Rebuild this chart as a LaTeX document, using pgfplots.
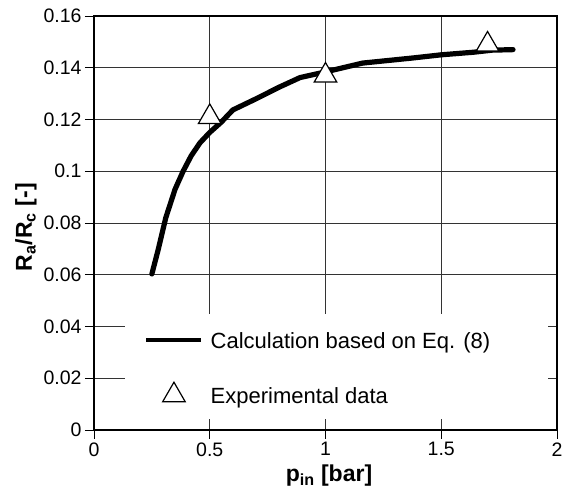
\documentclass[border=0pt]{standalone}
\usepackage{fontspec}
\setmainfont{Liberation Sans}
\usepackage{pgfplots}
\pgfplotsset{compat=1.18}
\pgfplotsset{
    linelegend/.style={legend image code/.code={\draw[##1, line width=4.5pt, line cap=butt] (0pt,0pt) -- (55pt,0pt);}},
    marklegend/.style={legend image code/.code={\draw[##1] plot coordinates {(27.5pt,0pt)};}},
}

\begin{document}
\begin{tikzpicture}
\begin{axis}[
    scale only axis,
    width=463pt, height=414pt,
    xmin=0, xmax=2,
    ymin=0, ymax=0.16,
    xtick={0,0.5,1,1.5,2},
    ytick={0,0.02,0.04,0.06,0.08,0.1,0.12,0.14,0.16},
    xtick pos=bottom, ytick pos=left,
    tick align=outside,
    major tick length=9pt,
    tick style={black, line width=0.9pt},
    xmajorgrids, ymajorgrids,
    grid style={black!80, line width=0.9pt},
    axis line style={black, line width=1.4pt},
    /pgf/number format/assume math mode=true,
    /pgf/number format/fixed,
    /pgf/number format/precision=2,
    ticklabel style={font=\fontsize{19.5}{23}\selectfont},
    xlabel={\textbf{p\textsubscript{in} [bar]}},
    ylabel={\textbf{R\textsubscript{a}/R\textsubscript{c} [-]}},
    label style={font=\fontsize{23}{27}\selectfont},
    xlabel style={at={(axis description cs:0.5076,-0.125)}, anchor=base},
    ylabel style={at={(axis description cs:-0.134,0.49)}, anchor=base},
    legend cell align=left,
    legend style={
        at={(rel axis cs:0.108,0.2367)}, anchor=north west,
        draw=none, fill=none, inner sep=0pt,
        row sep=34pt, column sep=7pt,
        font=\fontsize{22}{26}\selectfont,
        nodes={inner sep=0pt, text height=16pt, text depth=0pt},
    },
]
% white legend box over the grid
\fill[white] (rel axis cs:0.067,0.0266) rectangle (rel axis cs:0.9806,0.2802);

\addplot[black, line width=5.2pt, line cap=round, line join=round, linelegend]
    coordinates {
    (0.25,0.0603)(0.277,0.0696)(0.31,0.082)(0.35,0.093)(0.385,0.100)
    (0.42,0.106)(0.458,0.111)(0.5,0.115)(0.55,0.119)(0.6,0.1237)
    (0.7,0.128)(0.8,0.1325)(0.89,0.1362)(1.0,0.1384)(1.16,0.1418)
    (1.38,0.1438)(1.5,0.1450)(1.64,0.1460)(1.72,0.1468)(1.81,0.147)
    };
\addplot[only marks, mark=triangle*, mark size=13pt,
    mark options={fill=white, draw=black, line width=1.2pt}, marklegend]
    coordinates {(0.5,0.121)(1.0,0.137)(1.7,0.149)};
\legend{Calculation based on Eq. (8), Experimental data}
\end{axis}
\pgfresetboundingbox
\path (current axis.south west) ++(-94pt,-65pt) rectangle ++(574pt,495pt);
\end{tikzpicture}
\end{document}
